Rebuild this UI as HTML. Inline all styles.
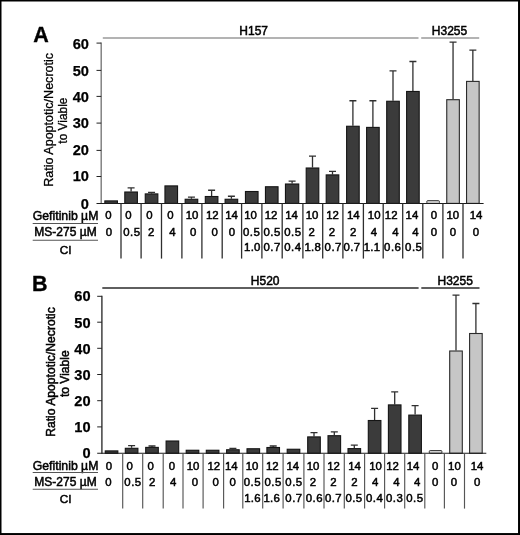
<!DOCTYPE html>
<html lang="en">
<head>
<meta charset="utf-8">
<title>Figure</title>
<style>
html,body{margin:0;padding:0;background:#fff;}
body{width:520px;height:535px;overflow:hidden;position:relative;}
svg{position:absolute;left:0;top:0;display:block;filter:grayscale(1);}
text{font-family:"Liberation Sans",Arial,Helvetica,sans-serif;fill:#000;}
.t{font-size:12px;stroke:#000;stroke-width:0.5px;}
.p{font-size:21.5px;font-weight:bold;stroke:#000;stroke-width:0.35px;}
.yl{font-size:14.6px;font-weight:bold;stroke:#000;stroke-width:0.25px;}
.ya{font-size:11.9px;stroke:#000;stroke-width:0.3px;}
.ya1{font-size:12.55px;}
.r{font-size:11.4px;stroke:#000;stroke-width:0.5px;}
.d{letter-spacing:0.5px;}
.d1{letter-spacing:0.3px;}
.rl{font-size:12.25px;stroke:#000;stroke-width:0.5px;}
.rc{font-size:11.8px;stroke:#000;stroke-width:0.5px;}
</style>
</head>
<body>
<svg width="520" height="535" viewBox="0 0 520 535">
<rect x="0" y="0" width="520" height="535" fill="#fff"/>
<g id="chartA" opacity="0.999">
<line x1="102.8" y1="38" x2="418.5" y2="38" stroke="#9a9a9a" stroke-width="1.4"/>
<line x1="421.2" y1="38" x2="479.2" y2="38" stroke="#9a9a9a" stroke-width="1.4"/>
<text class="t" x="253.7" y="35" text-anchor="middle">H157</text>
<text class="t" x="449.5" y="35" text-anchor="middle">H3255</text>
<text class="p" x="33.2" y="41.8">A</text>
<line x1="101.2" y1="42.6" x2="101.2" y2="203.9" stroke="#7a7a7a" stroke-width="1.4"/>
<line x1="96.5" y1="43.1" x2="101.2" y2="43.1" stroke="#222" stroke-width="1"/>
<text class="yl" x="88.95" y="48.7" text-anchor="end">60</text>
<line x1="96.5" y1="70.4" x2="101.2" y2="70.4" stroke="#222" stroke-width="1"/>
<text class="yl" x="88.95" y="75.5" text-anchor="end">50</text>
<line x1="96.5" y1="96.4" x2="101.2" y2="96.4" stroke="#222" stroke-width="1"/>
<text class="yl" x="88.95" y="101.5" text-anchor="end">40</text>
<line x1="96.5" y1="123.1" x2="101.2" y2="123.1" stroke="#222" stroke-width="1"/>
<text class="yl" x="88.95" y="128.1" text-anchor="end">30</text>
<line x1="96.5" y1="150.4" x2="101.2" y2="150.4" stroke="#222" stroke-width="1"/>
<text class="yl" x="88.95" y="155.2" text-anchor="end">20</text>
<line x1="96.5" y1="176.5" x2="101.2" y2="176.5" stroke="#222" stroke-width="1"/>
<text class="yl" x="88.95" y="181.2" text-anchor="end">10</text>
<text class="yl" x="88.95" y="209.1" text-anchor="end">0</text>
<text class="ya" style="font-size:12.55px;stroke-width:0.3px" transform="translate(53.4,119.85) rotate(-90)" text-anchor="middle">Ratio Apoptotic/Necrotic</text>
<text class="ya" style="font-size:11.9px;stroke-width:0.3px" transform="translate(67.3,120.6) rotate(-90)" text-anchor="middle">to Viable</text>
<rect x="104.85" y="200.9" width="12.6" height="2.5" fill="#3b3b3b" stroke="#151515" stroke-width="1.1"/>
<path d="M131.1 191.5V187.9M127.6 187.9H134.6" stroke="#303030" stroke-width="1.3" fill="none"/>
<rect x="124.8" y="192" width="12.6" height="11.4" fill="#3b3b3b" stroke="#151515" stroke-width="1.1"/>
<path d="M151.55 193.4V192.4M148.05 192.4H155.05" stroke="#303030" stroke-width="1.3" fill="none"/>
<rect x="145.25" y="193.9" width="12.6" height="9.5" fill="#3b3b3b" stroke="#151515" stroke-width="1.1"/>
<rect x="164.95" y="185.9" width="12.6" height="17.5" fill="#3b3b3b" stroke="#151515" stroke-width="1.1"/>
<path d="M191.45 198.75V197.2M187.95 197.2H194.95" stroke="#303030" stroke-width="1.3" fill="none"/>
<rect x="185.15" y="199.25" width="12.6" height="4.15" fill="#3b3b3b" stroke="#151515" stroke-width="1.1"/>
<path d="M211.6 196V190.25M208.1 190.25H215.1" stroke="#303030" stroke-width="1.3" fill="none"/>
<rect x="205.3" y="196.5" width="12.6" height="6.9" fill="#3b3b3b" stroke="#151515" stroke-width="1.1"/>
<path d="M231.4 198.75V196.25M227.9 196.25H234.9" stroke="#303030" stroke-width="1.3" fill="none"/>
<rect x="225.1" y="199.25" width="12.6" height="4.15" fill="#3b3b3b" stroke="#151515" stroke-width="1.1"/>
<rect x="245.45" y="191.5" width="12.6" height="11.9" fill="#3b3b3b" stroke="#151515" stroke-width="1.1"/>
<rect x="265.45" y="186.75" width="12.6" height="16.65" fill="#3b3b3b" stroke="#151515" stroke-width="1.1"/>
<path d="M292.1 183.5V181.2M288.6 181.2H295.6" stroke="#303030" stroke-width="1.3" fill="none"/>
<rect x="285.45" y="184" width="13.3" height="19.4" fill="#3b3b3b" stroke="#151515" stroke-width="1.1"/>
<path d="M312.5 167.5V156.2M309 156.2H316" stroke="#303030" stroke-width="1.3" fill="none"/>
<rect x="306.2" y="168" width="12.6" height="35.4" fill="#3b3b3b" stroke="#151515" stroke-width="1.1"/>
<path d="M332.5 174.4V171.3M329 171.3H336" stroke="#303030" stroke-width="1.3" fill="none"/>
<rect x="326.2" y="174.9" width="12.6" height="28.5" fill="#3b3b3b" stroke="#151515" stroke-width="1.1"/>
<path d="M352.9 125.75V100.75M349.4 100.75H356.4" stroke="#303030" stroke-width="1.3" fill="none"/>
<rect x="346.6" y="126.25" width="12.6" height="77.15" fill="#3b3b3b" stroke="#151515" stroke-width="1.1"/>
<path d="M372.9 126.9V100.75M369.4 100.75H376.4" stroke="#303030" stroke-width="1.3" fill="none"/>
<rect x="366.6" y="127.4" width="12.6" height="76" fill="#3b3b3b" stroke="#151515" stroke-width="1.1"/>
<path d="M393 100.75V70.85M389.5 70.85H396.5" stroke="#303030" stroke-width="1.3" fill="none"/>
<rect x="386.7" y="101.25" width="12.6" height="102.15" fill="#3b3b3b" stroke="#151515" stroke-width="1.1"/>
<path d="M412.9 90.95V61.5M409.4 61.5H416.4" stroke="#303030" stroke-width="1.3" fill="none"/>
<rect x="406.6" y="91.45" width="12.6" height="111.95" fill="#3b3b3b" stroke="#151515" stroke-width="1.1"/>
<rect x="426.8" y="200.65" width="12.6" height="2.75" rx="0.9" fill="#d8d8d8" stroke="#222" stroke-width="0.9"/>
<path d="M453.05 99.2V42.1M449.55 42.1H456.55" stroke="#303030" stroke-width="1.3" fill="none"/>
<rect x="446.75" y="99.7" width="12.6" height="103.7" fill="#c6c6c6" stroke="#2a2a2a" stroke-width="1.1"/>
<path d="M472.85 80.9V50.1M469.35 50.1H476.35" stroke="#303030" stroke-width="1.3" fill="none"/>
<rect x="466.55" y="81.4" width="12.6" height="122" fill="#c6c6c6" stroke="#2a2a2a" stroke-width="1.1"/>
<line x1="96.5" y1="203.4" x2="483.6" y2="203.4" stroke="#1c1c1c" stroke-width="1.05"/>
<line x1="121" y1="203.4" x2="121" y2="258.6" stroke="#2e2e2e" stroke-width="1.3"/>
<line x1="141.1" y1="203.4" x2="141.1" y2="258.6" stroke="#2e2e2e" stroke-width="1.3"/>
<line x1="161.5" y1="203.4" x2="161.5" y2="258.6" stroke="#2e2e2e" stroke-width="1.3"/>
<line x1="181.9" y1="203.4" x2="181.9" y2="258.6" stroke="#2e2e2e" stroke-width="1.3"/>
<line x1="201.9" y1="203.4" x2="201.9" y2="258.6" stroke="#2e2e2e" stroke-width="1.3"/>
<line x1="222.2" y1="203.4" x2="222.2" y2="258.6" stroke="#2e2e2e" stroke-width="1.3"/>
<line x1="241.6" y1="203.4" x2="241.6" y2="258.6" stroke="#2e2e2e" stroke-width="1.3"/>
<line x1="261.9" y1="203.4" x2="261.9" y2="258.6" stroke="#2e2e2e" stroke-width="1.3"/>
<line x1="282.2" y1="203.4" x2="282.2" y2="258.6" stroke="#2e2e2e" stroke-width="1.3"/>
<line x1="302.9" y1="203.4" x2="302.9" y2="258.6" stroke="#2e2e2e" stroke-width="1.3"/>
<line x1="322.7" y1="203.4" x2="322.7" y2="258.6" stroke="#2e2e2e" stroke-width="1.3"/>
<line x1="342.9" y1="203.4" x2="342.9" y2="258.6" stroke="#2e2e2e" stroke-width="1.3"/>
<line x1="363.4" y1="203.4" x2="363.4" y2="258.6" stroke="#2e2e2e" stroke-width="1.3"/>
<line x1="383.2" y1="203.4" x2="383.2" y2="258.6" stroke="#2e2e2e" stroke-width="1.3"/>
<line x1="402.7" y1="203.4" x2="402.7" y2="258.6" stroke="#2e2e2e" stroke-width="1.3"/>
<line x1="422.8" y1="203.4" x2="422.8" y2="258.6" stroke="#2e2e2e" stroke-width="1.3"/>
<line x1="442.9" y1="203.4" x2="442.9" y2="258.6" stroke="#2e2e2e" stroke-width="1.3"/>
<line x1="463" y1="203.4" x2="463" y2="258.6" stroke="#2e2e2e" stroke-width="1.3"/>
<text class="rl" x="65.6" y="220.1" text-anchor="middle">Gefitinib µM</text>
<text class="rl" style="font-size:12px" x="65.5" y="235.9" text-anchor="middle">MS-275 µM</text>
<text class="rc" x="65.7" y="253.5" text-anchor="middle">CI</text>
<line x1="32.7" y1="223.5" x2="98" y2="223.5" stroke="#555" stroke-width="1.1"/>
<line x1="32.7" y1="240.2" x2="98" y2="240.2" stroke="#555" stroke-width="1.1"/>
<text class="r" x="108.4" y="219.25" text-anchor="middle">0</text>
<text class="r" x="108.8" y="235.75" text-anchor="middle">0</text>
<text class="r" x="128.5" y="219.25" text-anchor="middle">0</text>
<text class="r d" x="131.85" y="235.75" text-anchor="middle">0.5</text>
<text class="r" x="149.5" y="219.25" text-anchor="middle">0</text>
<text class="r" x="151.25" y="235.75" text-anchor="middle">2</text>
<text class="r" x="170.5" y="219.25" text-anchor="middle">0</text>
<text class="r" x="172.3" y="235.75" text-anchor="middle">4</text>
<text class="r" x="192" y="219.25" text-anchor="middle">10</text>
<text class="r" x="193.1" y="235.75" text-anchor="middle">0</text>
<text class="r" x="212.3" y="219.25" text-anchor="middle">12</text>
<text class="r" x="214.6" y="235.75" text-anchor="middle">0</text>
<text class="r" x="231.5" y="219.25" text-anchor="middle">14</text>
<text class="r" x="231.9" y="235.75" text-anchor="middle">0</text>
<text class="r" x="250.6" y="219.25" text-anchor="middle">10</text>
<text class="r d" x="251.65" y="235.75" text-anchor="middle">0.5</text>
<text class="r d1" x="252.4" y="251.4" text-anchor="middle">1.0</text>
<text class="r" x="271" y="219.25" text-anchor="middle">12</text>
<text class="r d" x="272.15" y="235.75" text-anchor="middle">0.5</text>
<text class="r d" x="272.15" y="251.4" text-anchor="middle">0.7</text>
<text class="r" x="291.5" y="219.25" text-anchor="middle">14</text>
<text class="r d" x="292.85" y="235.75" text-anchor="middle">0.5</text>
<text class="r d" x="292.85" y="251.4" text-anchor="middle">0.4</text>
<text class="r" x="312.1" y="219.25" text-anchor="middle">10</text>
<text class="r" x="311.6" y="235.75" text-anchor="middle">2</text>
<text class="r d1" x="312.85" y="251.4" text-anchor="middle">1.8</text>
<text class="r" x="332.5" y="219.25" text-anchor="middle">12</text>
<text class="r" x="331.9" y="235.75" text-anchor="middle">2</text>
<text class="r d" x="333.25" y="251.4" text-anchor="middle">0.7</text>
<text class="r" x="353.3" y="219.25" text-anchor="middle">14</text>
<text class="r" x="353.2" y="235.75" text-anchor="middle">2</text>
<text class="r d" x="352.05" y="251.4" text-anchor="middle">0.7</text>
<text class="r" x="374.2" y="219.25" text-anchor="middle">10</text>
<text class="r" x="374" y="235.75" text-anchor="middle">4</text>
<text class="r d1" x="372.05" y="251.4" text-anchor="middle">1.1</text>
<text class="r" x="391.2" y="219.25" text-anchor="middle">12</text>
<text class="r" x="395.3" y="235.75" text-anchor="middle">4</text>
<text class="r d" x="392.75" y="251.4" text-anchor="middle">0.6</text>
<text class="r" x="411.9" y="219.25" text-anchor="middle">14</text>
<text class="r" x="415.5" y="235.75" text-anchor="middle">4</text>
<text class="r d" x="413.75" y="251.4" text-anchor="middle">0.5</text>
<text class="r" x="433.9" y="219.25" text-anchor="middle">0</text>
<text class="r" x="433.9" y="235.75" text-anchor="middle">0</text>
<text class="r" x="452.8" y="219.25" text-anchor="middle">10</text>
<text class="r" x="452.8" y="235.75" text-anchor="middle">0</text>
<text class="r" x="476.1" y="219.25" text-anchor="middle">14</text>
<text class="r" x="475.9" y="235.75" text-anchor="middle">0</text>
</g>
<g id="chartB" opacity="0.999">
<line x1="102.3" y1="288" x2="418.6" y2="288" stroke="#2a2a2a" stroke-width="1.4"/>
<line x1="421.3" y1="288" x2="479.5" y2="288" stroke="#2a2a2a" stroke-width="1.4"/>
<text class="t" x="265.2" y="285" text-anchor="middle">H520</text>
<text class="t" x="455.2" y="285" text-anchor="middle">H3255</text>
<text class="p" x="31.9" y="290.8">B</text>
<line x1="101.9" y1="295.8" x2="101.9" y2="453.8" stroke="#333" stroke-width="1.4"/>
<line x1="97.2" y1="296.3" x2="101.9" y2="296.3" stroke="#222" stroke-width="1"/>
<text class="yl" x="90.55" y="301.2" text-anchor="end">60</text>
<line x1="97.2" y1="322.2" x2="101.9" y2="322.2" stroke="#222" stroke-width="1"/>
<text class="yl" x="90.55" y="327.8" text-anchor="end">50</text>
<line x1="97.2" y1="348.3" x2="101.9" y2="348.3" stroke="#222" stroke-width="1"/>
<text class="yl" x="90.55" y="353.9" text-anchor="end">40</text>
<line x1="97.2" y1="374.5" x2="101.9" y2="374.5" stroke="#222" stroke-width="1"/>
<text class="yl" x="90.55" y="380" text-anchor="end">30</text>
<line x1="97.2" y1="400.7" x2="101.9" y2="400.7" stroke="#222" stroke-width="1"/>
<text class="yl" x="90.55" y="406.1" text-anchor="end">20</text>
<line x1="97.2" y1="426.9" x2="101.9" y2="426.9" stroke="#222" stroke-width="1"/>
<text class="yl" x="90.55" y="432" text-anchor="end">10</text>
<text class="yl" x="90.55" y="458.3" text-anchor="end">0</text>
<text class="ya" style="font-size:12.17px;stroke-width:0.5px" transform="translate(55,372) rotate(-90)" text-anchor="middle">Ratio Apoptotic/Necrotic</text>
<text class="ya" style="font-size:12.05px;stroke-width:0.5px" transform="translate(68.9,373.7) rotate(-90)" text-anchor="middle">to Viable</text>
<rect x="105.25" y="450.9" width="12.6" height="2.4" fill="#3b3b3b" stroke="#151515" stroke-width="1.1"/>
<path d="M131.6 447.8V445.6M128.1 445.6H135.1" stroke="#303030" stroke-width="1.3" fill="none"/>
<rect x="125.3" y="448.3" width="12.6" height="5" fill="#3b3b3b" stroke="#151515" stroke-width="1.1"/>
<path d="M152 446.9V446M148.5 446H155.5" stroke="#303030" stroke-width="1.3" fill="none"/>
<rect x="145.7" y="447.4" width="12.6" height="5.9" fill="#3b3b3b" stroke="#151515" stroke-width="1.1"/>
<rect x="166.1" y="441" width="12.6" height="12.3" fill="#3b3b3b" stroke="#151515" stroke-width="1.1"/>
<rect x="186.2" y="450.25" width="12.6" height="3.05" fill="#3b3b3b" stroke="#151515" stroke-width="1.1"/>
<rect x="206.3" y="450.25" width="12.6" height="3.05" fill="#3b3b3b" stroke="#151515" stroke-width="1.1"/>
<path d="M232.9 449.25V448.4M229.4 448.4H236.4" stroke="#303030" stroke-width="1.3" fill="none"/>
<rect x="226.6" y="449.75" width="12.6" height="3.55" fill="#3b3b3b" stroke="#151515" stroke-width="1.1"/>
<rect x="247" y="448.75" width="12.6" height="4.55" fill="#3b3b3b" stroke="#151515" stroke-width="1.1"/>
<path d="M273.2 447V446M269.7 446H276.7" stroke="#303030" stroke-width="1.3" fill="none"/>
<rect x="266.9" y="447.5" width="12.6" height="5.8" fill="#3b3b3b" stroke="#151515" stroke-width="1.1"/>
<rect x="287.2" y="449.25" width="12.6" height="4.05" fill="#3b3b3b" stroke="#151515" stroke-width="1.1"/>
<path d="M314 436.4V432.7M310.5 432.7H317.5" stroke="#303030" stroke-width="1.3" fill="none"/>
<rect x="307.7" y="436.9" width="12.6" height="16.4" fill="#3b3b3b" stroke="#151515" stroke-width="1.1"/>
<path d="M334.3 435.2V431.8M330.8 431.8H337.8" stroke="#303030" stroke-width="1.3" fill="none"/>
<rect x="328" y="435.7" width="12.6" height="17.6" fill="#3b3b3b" stroke="#151515" stroke-width="1.1"/>
<path d="M354.3 448.1V445.1M350.8 445.1H357.8" stroke="#303030" stroke-width="1.3" fill="none"/>
<rect x="348" y="448.6" width="12.6" height="4.7" fill="#3b3b3b" stroke="#151515" stroke-width="1.1"/>
<path d="M374.6 420V408.3M371.1 408.3H378.1" stroke="#303030" stroke-width="1.3" fill="none"/>
<rect x="368.3" y="420.5" width="12.6" height="32.8" fill="#3b3b3b" stroke="#151515" stroke-width="1.1"/>
<path d="M394.7 404.4V391.8M391.2 391.8H398.2" stroke="#303030" stroke-width="1.3" fill="none"/>
<rect x="388.4" y="404.9" width="12.6" height="48.4" fill="#3b3b3b" stroke="#151515" stroke-width="1.1"/>
<path d="M415.1 414.6V405.6M411.6 405.6H418.6" stroke="#303030" stroke-width="1.3" fill="none"/>
<rect x="408.8" y="415.1" width="12.6" height="38.2" fill="#3b3b3b" stroke="#151515" stroke-width="1.1"/>
<rect x="429.3" y="450.55" width="12.6" height="2.75" rx="0.9" fill="#d8d8d8" stroke="#222" stroke-width="0.9"/>
<path d="M456 350.5V295.2M452.5 295.2H459.5" stroke="#303030" stroke-width="1.3" fill="none"/>
<rect x="449.7" y="351" width="12.6" height="102.3" fill="#c6c6c6" stroke="#2a2a2a" stroke-width="1.1"/>
<path d="M475.9 333V303.5M472.4 303.5H479.4" stroke="#303030" stroke-width="1.3" fill="none"/>
<rect x="469.6" y="333.5" width="12.6" height="119.8" fill="#c6c6c6" stroke="#2a2a2a" stroke-width="1.1"/>
<line x1="97.2" y1="453.3" x2="486.3" y2="453.3" stroke="#1c1c1c" stroke-width="1.05"/>
<line x1="122.7" y1="453.3" x2="122.7" y2="508.6" stroke="#555" stroke-width="1.15"/>
<line x1="142.7" y1="453.3" x2="142.7" y2="508.6" stroke="#555" stroke-width="1.15"/>
<line x1="163.2" y1="453.3" x2="163.2" y2="508.6" stroke="#555" stroke-width="1.15"/>
<line x1="183" y1="453.3" x2="183" y2="508.6" stroke="#555" stroke-width="1.15"/>
<line x1="203.1" y1="453.3" x2="203.1" y2="508.6" stroke="#555" stroke-width="1.15"/>
<line x1="223.6" y1="453.3" x2="223.6" y2="508.6" stroke="#555" stroke-width="1.15"/>
<line x1="242.8" y1="453.3" x2="242.8" y2="508.6" stroke="#555" stroke-width="1.15"/>
<line x1="262.7" y1="453.3" x2="262.7" y2="508.6" stroke="#555" stroke-width="1.15"/>
<line x1="283.1" y1="453.3" x2="283.1" y2="508.6" stroke="#555" stroke-width="1.15"/>
<line x1="303.9" y1="453.3" x2="303.9" y2="508.6" stroke="#555" stroke-width="1.15"/>
<line x1="324" y1="453.3" x2="324" y2="508.6" stroke="#555" stroke-width="1.15"/>
<line x1="344.3" y1="453.3" x2="344.3" y2="508.6" stroke="#555" stroke-width="1.15"/>
<line x1="364.6" y1="453.3" x2="364.6" y2="508.6" stroke="#555" stroke-width="1.15"/>
<line x1="384.6" y1="453.3" x2="384.6" y2="508.6" stroke="#555" stroke-width="1.15"/>
<line x1="404.7" y1="453.3" x2="404.7" y2="508.6" stroke="#555" stroke-width="1.15"/>
<line x1="424.8" y1="453.3" x2="424.8" y2="508.6" stroke="#555" stroke-width="1.15"/>
<line x1="444.4" y1="453.3" x2="444.4" y2="508.6" stroke="#555" stroke-width="1.15"/>
<line x1="464.5" y1="453.3" x2="464.5" y2="508.6" stroke="#555" stroke-width="1.15"/>
<text class="rl" x="65.6" y="469.9" text-anchor="middle">Gefitinib µM</text>
<text class="rl" style="font-size:12px" x="65.5" y="485.8" text-anchor="middle">MS-275 µM</text>
<text class="rc" x="65.7" y="503" text-anchor="middle">CI</text>
<line x1="32.7" y1="472.5" x2="98" y2="472.5" stroke="#555" stroke-width="1.1"/>
<line x1="32.7" y1="489.2" x2="98" y2="489.2" stroke="#555" stroke-width="1.1"/>
<text class="r" x="109" y="469.7" text-anchor="middle">0</text>
<text class="r" x="108.4" y="485.6" text-anchor="middle">0</text>
<text class="r" x="129.6" y="469.7" text-anchor="middle">0</text>
<text class="r d" x="133" y="485.6" text-anchor="middle">0.5</text>
<text class="r" x="150.6" y="469.7" text-anchor="middle">0</text>
<text class="r" x="152.1" y="485.6" text-anchor="middle">2</text>
<text class="r" x="171.9" y="469.7" text-anchor="middle">0</text>
<text class="r" x="173.1" y="485.6" text-anchor="middle">4</text>
<text class="r" x="193.1" y="469.7" text-anchor="middle">10</text>
<text class="r" x="194.9" y="485.6" text-anchor="middle">0</text>
<text class="r" x="213.75" y="469.7" text-anchor="middle">12</text>
<text class="r" x="215.6" y="485.6" text-anchor="middle">0</text>
<text class="r" x="231.25" y="469.7" text-anchor="middle">14</text>
<text class="r" x="232.6" y="485.6" text-anchor="middle">0</text>
<text class="r" x="252.1" y="469.7" text-anchor="middle">10</text>
<text class="r d" x="252.35" y="485.6" text-anchor="middle">0.5</text>
<text class="r d1" x="252.55" y="501.9" text-anchor="middle">1.6</text>
<text class="r" x="272.25" y="469.7" text-anchor="middle">12</text>
<text class="r d" x="273.15" y="485.6" text-anchor="middle">0.5</text>
<text class="r d1" x="271.85" y="501.9" text-anchor="middle">1.6</text>
<text class="r" x="292.75" y="469.7" text-anchor="middle">14</text>
<text class="r d" x="294" y="485.6" text-anchor="middle">0.5</text>
<text class="r d" x="294" y="501.9" text-anchor="middle">0.7</text>
<text class="r" x="313.1" y="469.7" text-anchor="middle">10</text>
<text class="r" x="312.9" y="485.6" text-anchor="middle">2</text>
<text class="r d" x="314.35" y="501.9" text-anchor="middle">0.6</text>
<text class="r" x="333.5" y="469.7" text-anchor="middle">12</text>
<text class="r" x="333.4" y="485.6" text-anchor="middle">2</text>
<text class="r d" x="333.55" y="501.9" text-anchor="middle">0.7</text>
<text class="r" x="354.6" y="469.7" text-anchor="middle">14</text>
<text class="r" x="354.3" y="485.6" text-anchor="middle">2</text>
<text class="r d" x="354.05" y="501.9" text-anchor="middle">0.5</text>
<text class="r" x="375.5" y="469.7" text-anchor="middle">10</text>
<text class="r" x="375.2" y="485.6" text-anchor="middle">4</text>
<text class="r d" x="374.65" y="501.9" text-anchor="middle">0.4</text>
<text class="r" x="392.5" y="469.7" text-anchor="middle">12</text>
<text class="r" x="396.3" y="485.6" text-anchor="middle">4</text>
<text class="r d" x="394.65" y="501.9" text-anchor="middle">0.3</text>
<text class="r" x="413.1" y="469.7" text-anchor="middle">14</text>
<text class="r" x="417.1" y="485.6" text-anchor="middle">4</text>
<text class="r d" x="414.95" y="501.9" text-anchor="middle">0.5</text>
<text class="r" x="435.1" y="469.7" text-anchor="middle">0</text>
<text class="r" x="435.1" y="485.6" text-anchor="middle">0</text>
<text class="r" x="454.4" y="469.7" text-anchor="middle">10</text>
<text class="r" x="453.9" y="485.6" text-anchor="middle">0</text>
<text class="r" x="477" y="469.7" text-anchor="middle">14</text>
<text class="r" x="477.2" y="485.6" text-anchor="middle">0</text>
</g>
<path d="M0.75 0V535M0 0.75H520M519.1 0V535M0 534H520" stroke="#000" stroke-width="1.5" fill="none" id="frame"/>
<path d="M0 534.1H520" stroke="#000" stroke-width="1.9" fill="none"/>
<path d="M519.05 0V535" stroke="#000" stroke-width="1.9" fill="none"/>
</svg>
</body>
</html>
